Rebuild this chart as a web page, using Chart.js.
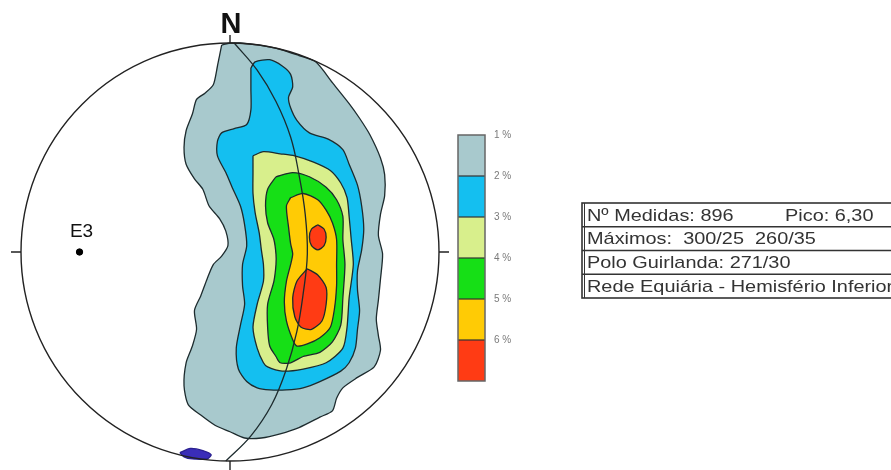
<!DOCTYPE html>
<html>
<head>
<meta charset="utf-8">
<script src="https://cdn.jsdelivr.net/npm/chart.js@4.4.1/dist/chart.umd.min.js"></script>
<style>
  body { margin: 0; background: #fff; }
  #wrap { width: 891px; height: 470px; }
</style>
</head>
<body>
<div id="wrap"><canvas id="net" width="891" height="470"></canvas></div>
<script>
// Contour levels (density %), colour per level
const levelLabels = ['1 %', '2 %', '3 %', '4 %', '5 %', '6 %'];
const levelColors = ['#a8c9cd', '#14bff0', '#d8ef8c', '#16df16', '#ffcb05', '#ff3b14'];

// Contours in net units (radius of the net = 100)
const contour1 = [[-4,99],[-5,94],[-6,89],[-8,80],[-12,76],[-16,73],[-18,66],[-21,58],[-22,50],[-21,42],[-17,35],[-13,30],[-10,22],[-5,16],[-2,10],[-1,3],[-4,-2],[-8,-6],[-11,-13],[-14,-21],[-17,-28],[-16,-37],[-18,-45],[-21,-53],[-22,-64],[-20,-73],[-14,-78],[-7,-83],[0,-86],[7,-89],[15,-89],[24,-87],[33,-84],[43,-79],[49,-76],[51,-70],[54,-65],[61,-60],[69,-55],[72,-47],[71,-40],[70,-32],[71,-23],[72,-13],[73,-1],[71,8],[72,18],[74,27],[74,37],[72,45],[67,56],[62,64],[57,71],[49,81],[41,91],[33,94],[24,97],[14,99],[5,100],[0,100]];
const contour2 = [[10,88],[12,91],[19,92],[25,89],[29,85],[30,79],[28,74],[29,69],[32,63],[38,57],[47,54],[54,49],[57,42],[61,32],[63,22],[64,11],[63,1],[61,-9],[61,-18],[62,-28],[61,-37],[60,-46],[57,-53],[53,-57],[43,-62],[35,-65],[27,-66],[19,-66],[13,-65],[8,-62],[4,-56],[3,-46],[5,-35],[7,-25],[6,-16],[6,-6],[8,3],[7,13],[5,22],[1,31],[-2,38],[-6,46],[-6,53],[-4,57],[2,59],[8,61],[10,68],[10,78]];
const contour3 = [[11,46],[16,48],[24,47],[31,46],[40,43],[48,39],[53,33],[56,26],[57,17],[58,6],[59,-6],[57,-22],[56,-36],[54,-46],[46,-53],[35,-56],[25,-57],[18,-55],[16,-53],[13,-46],[11,-36],[13,-25],[16,-14],[16,-6],[15,1],[14,9],[12,19],[11,28],[11,38]];
const contour4 = [[22,36],[30,38],[38,36],[46,31],[51,25],[54,17],[54,6],[55,-6],[54,-22],[53,-35],[49,-43],[43,-48],[35,-50],[29,-53],[24,-53],[22,-50],[19,-45],[18,-36],[18,-25],[21,-14],[22,-6],[22,-1],[21,6],[18,14],[17,22],[18,30]];
const contour5 = [[29,26],[35,28],[42,25],[46,20],[49,14],[51,6],[51,-6],[51,-16],[50,-27],[48,-36],[43,-41],[37,-44],[32,-45],[30,-42],[27,-33],[26,-24],[27,-14],[29,-6],[30,-1],[29,4],[28,12],[27,22]];
const contour6a = [[42,13],[45,11],[46,7],[45,3],[42,1],[39,3],[38,7],[39,11]];
const contour6b = [[37,-8],[42,-11],[46,-17],[46,-25],[44,-33],[39,-37],[34,-36],[31,-31],[30,-22],[32,-14]];
const lowPatch = [[-24,-96],[-19,-94],[-13,-95],[-9,-97],[-11,-99],[-18,-99],[-22,-98]];

// Girdle great circle (plane normal to pole 271/30) and the E3 pole
const greatCircle = [[2,100],[13,87],[22,72],[29,55],[33,37],[36,18],[37,-1],[35,-20],[32,-38],[27,-56],[20,-73],[10,-88],[-2,-100]];
const e3Point = [-72, 0];
const e3Label = 'E3';

// Stats box rows
const tableRows = [
  ['Nº Medidas: 896', 'Pico: 6,30'],
  ['Máximos:  300/25  260/35', ''],
  ['Polo Guirlanda: 271/30', ''],
  ['Rede Equiária - Hemisfério Inferior', '']
];

const toPoints = arr => arr.map(p => ({ x: p[0], y: p[1] }));
const closed = arr => toPoints(arr.concat([arr[0]]));

function contourSet(arr, color) {
  return {
    data: closed(arr),
    borderColor: '#1d2b2e',
    borderWidth: 1.3,
    backgroundColor: color,
    fill: 'shape',
    tension: 0.25,
    pointRadius: 0,
    clip: false
  };
}

// text drawn a little wider than the font, like the scanned box
function wideText(ctx, text, x, y, sx) {
  ctx.save();
  ctx.translate(x, y);
  ctx.scale(sx, 1);
  ctx.fillText(text, 0, 0);
  ctx.restore();
}

// Net outline, ticks, labels, colour scale and stats box
const netFrame = {
  id: 'netFrame',
  afterDraw(chart) {
    const ctx = chart.ctx;
    const xs = chart.scales.x, ys = chart.scales.y;
    const cx = xs.getPixelForValue(0), cy = ys.getPixelForValue(0);
    const r = xs.getPixelForValue(100) - cx;
    const font = '"Liberation Sans", Arial, sans-serif';
    ctx.save();
    ctx.strokeStyle = '#222';
    ctx.lineWidth = 1.4;
    ctx.beginPath();
    ctx.arc(cx, cy, r, 0, Math.PI * 2);
    ctx.stroke();
    ctx.beginPath();
    ctx.moveTo(cx, cy - r); ctx.lineTo(cx, cy - r - 8);
    ctx.moveTo(cx, cy + r); ctx.lineTo(cx, cy + r + 9);
    ctx.moveTo(cx - r, cy); ctx.lineTo(cx - r - 10, cy);
    ctx.moveTo(cx + r, cy); ctx.lineTo(cx + r + 10, cy);
    ctx.stroke();

    ctx.fillStyle = '#111';
    ctx.textAlign = 'center';
    ctx.textBaseline = 'alphabetic';
    ctx.font = 'bold 29px ' + font;
    ctx.fillText('N', cx + 1, cy - r - 10);
    ctx.font = '19px ' + font;
    ctx.fillText(e3Label, xs.getPixelForValue(e3Point[0]) + 2, ys.getPixelForValue(e3Point[1]) - 15);

    // colour scale
    const bx = 458, bw = 27, by = 135, bh = 41;
    levelColors.forEach((c, i) => {
      ctx.fillStyle = c;
      ctx.fillRect(bx, by + i * bh, bw, bh);
    });
    ctx.strokeStyle = '#333';
    ctx.lineWidth = 1.2;
    for (let i = 1; i < levelColors.length; i++) {
      ctx.beginPath();
      ctx.moveTo(bx, by + i * bh);
      ctx.lineTo(bx + bw, by + i * bh);
      ctx.stroke();
    }
    ctx.strokeStyle = '#666';
    ctx.lineWidth = 1.5;
    ctx.strokeRect(bx, by, bw, bh * levelColors.length);
    ctx.fillStyle = '#7a7a7a';
    ctx.font = '10px ' + font;
    ctx.textAlign = 'left';
    ctx.textBaseline = 'middle';
    levelLabels.forEach((t, i) => ctx.fillText(t, bx + 36, by + i * bh));

    // stats box
    const tx = 582, ty = 203, rh = 23.75;
    ctx.strokeStyle = '#333';
    ctx.lineWidth = 1.6;
    ctx.strokeRect(tx, ty, 400, rh * tableRows.length);
    ctx.beginPath();
    ctx.moveTo(tx + 2.5, ty);
    ctx.lineTo(tx + 2.5, ty + rh * tableRows.length);
    ctx.lineWidth = 1;
    ctx.stroke();
    ctx.lineWidth = 1.6;
    for (let i = 1; i < tableRows.length; i++) {
      ctx.beginPath();
      ctx.moveTo(tx, ty + i * rh);
      ctx.lineTo(891, ty + i * rh);
      ctx.stroke();
    }
    ctx.fillStyle = '#333';
    ctx.font = '17px ' + font;
    tableRows.forEach((row, i) => {
      const y = ty + rh * (i + 0.5) + 1;
      wideText(ctx, row[0], tx + 5, y, 1.17);
      if (row[1]) wideText(ctx, row[1], 785, y, 1.17);
    });
    ctx.restore();
  }
};

new Chart(document.getElementById('net'), {
  type: 'line',
  data: {
    datasets: [
      {
        data: toPoints([e3Point]),
        showLine: false,
        pointRadius: 3.2,
        pointBackgroundColor: '#000',
        pointBorderColor: '#000',
        clip: false
      },
      {
        data: toPoints(greatCircle),
        borderColor: '#1d2b2e',
        borderWidth: 1.3,
        fill: false,
        tension: 0.4,
        pointRadius: 0,
        clip: false
      },
      contourSet(contour6a, levelColors[5]),
      contourSet(contour6b, levelColors[5]),
      contourSet(contour5, levelColors[4]),
      contourSet(contour4, levelColors[3]),
      contourSet(contour3, levelColors[2]),
      contourSet(contour2, levelColors[1]),
      contourSet(contour1, levelColors[0]),
      Object.assign(contourSet(lowPatch, '#3a2db8'), { borderColor: '#2a2090' })
    ]
  },
  options: {
    responsive: false,
    animation: false,
    layout: { padding: { left: 21, right: 452, top: 43, bottom: 9 } },
    scales: {
      x: { type: 'linear', min: -100, max: 100, display: false },
      y: { type: 'linear', min: -100, max: 100, display: false }
    },
    plugins: {
      legend: { display: false },
      tooltip: { enabled: false }
    }
  },
  plugins: [netFrame]
});
</script>
</body>
</html>
